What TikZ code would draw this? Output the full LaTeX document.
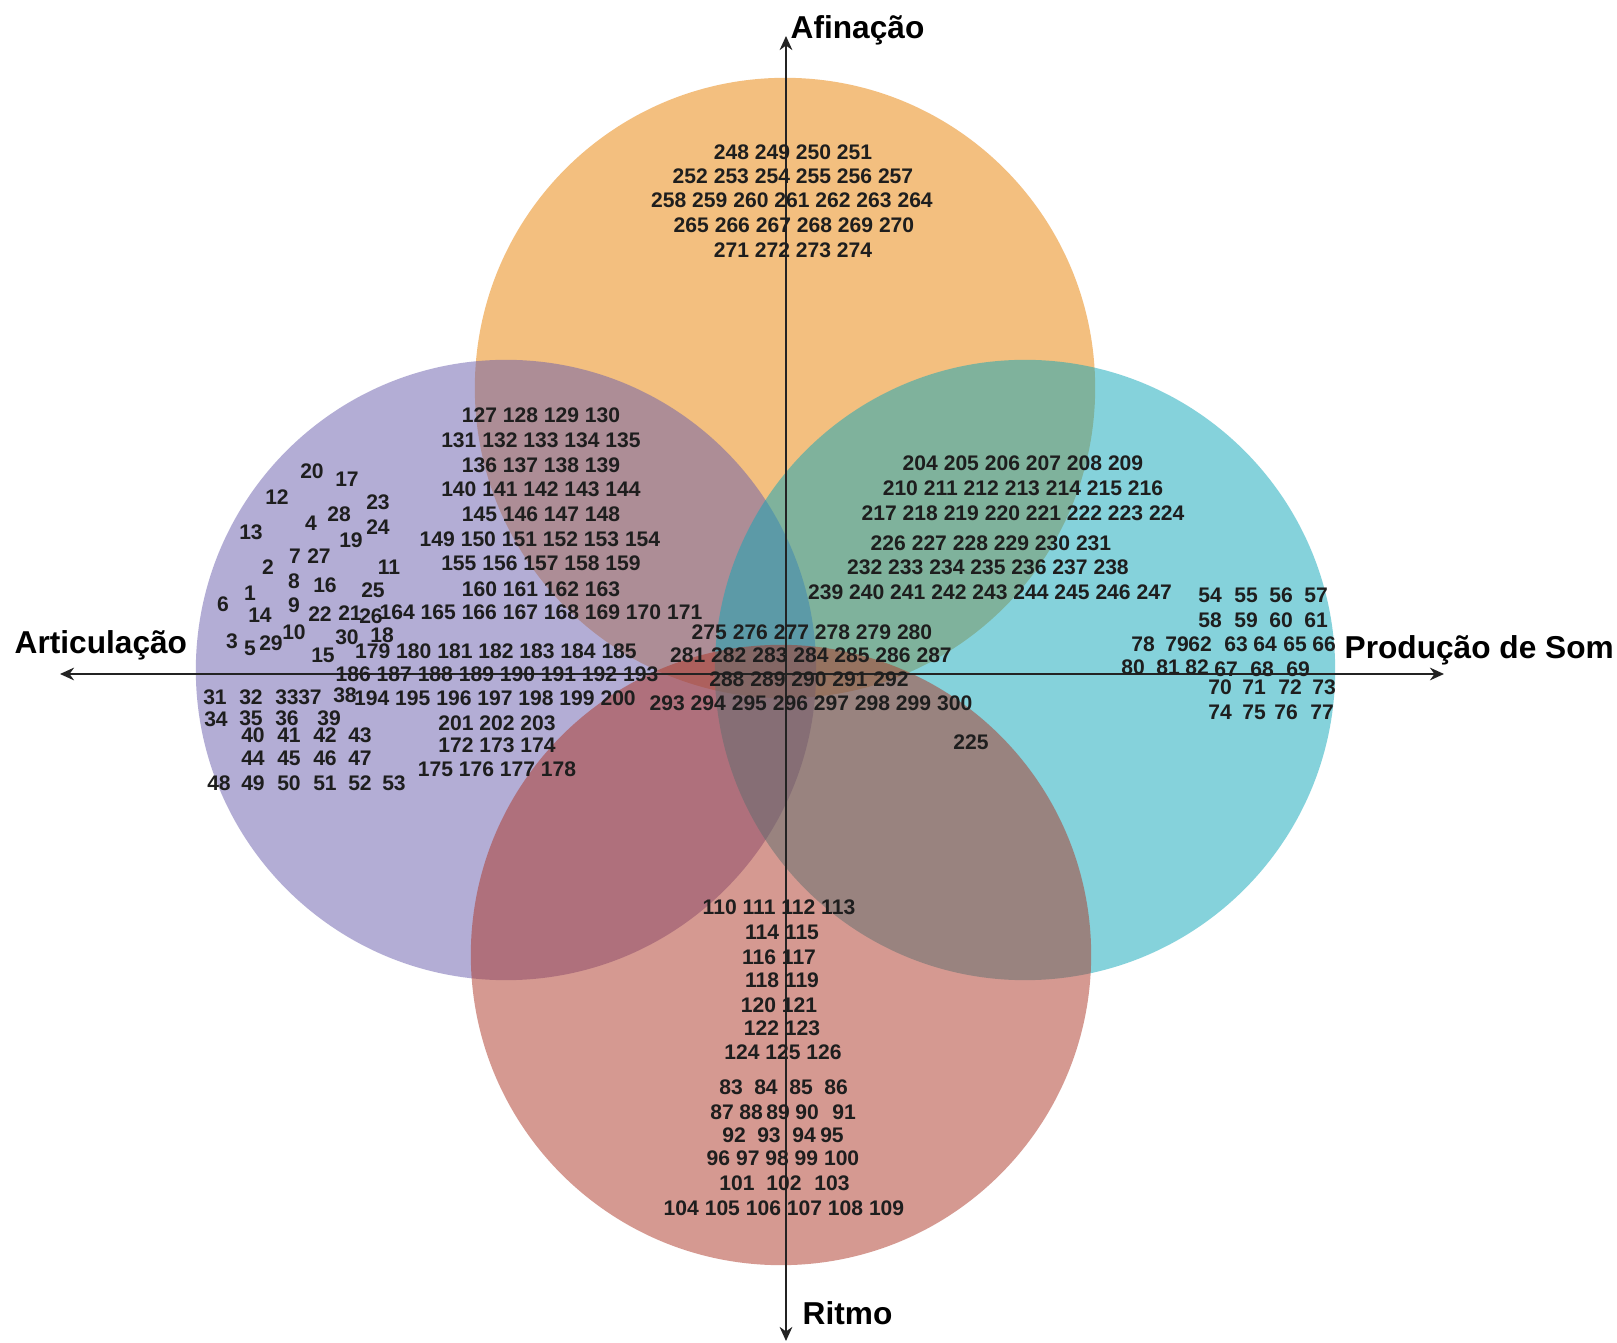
\documentclass[tikz,border=0pt]{standalone}
\usepackage{fontspec}
\setmainfont{Liberation Sans}
\usetikzlibrary{arrows.meta}

\definecolor{afincol}{RGB}{233,129,0}
\definecolor{articol}{RGB}{105,93,173}
\definecolor{prodcol}{RGB}{13,167,185}
\definecolor{ritmcol}{RGB}{173,53,37}
\definecolor{numcol}{RGB}{30,30,30}
\definecolor{axiscol}{RGB}{35,35,35}

\begin{document}
\begin{tikzpicture}[x=0.01cm, y=-0.01cm,
    set/.style={circle, minimum size=6.2cm, inner sep=0pt, fill opacity=0.5},
    num/.style={inner sep=0pt, text=numcol, font=\bfseries\fontsize{6}{7}\selectfont},
    lbl/.style={inner sep=0pt, text=black, font=\bfseries\fontsize{9}{10}\selectfont},
    axis/.style={draw=axiscol, line width=0.6pt, {Stealth[length=4pt,width=3.6pt]}-{Stealth[length=4pt,width=3.6pt]}}]
    \path[fill=white, use as bounding box] (0,0) rectangle (1617,1343);

    \node[set, fill=afincol] (afin) at (785,388) {};
    \node[set, fill=articol] (arti) at (506,670) {};
    \node[set, fill=prodcol] (prod) at (1025,670) {};
    \node[set, fill=ritmcol] (ritm) at (781,955) {};

    \coordinate (atop) at (786,36);
    \coordinate (abot) at (786,1341);
    \coordinate (aleft) at (60,674);
    \coordinate (aright) at (1444,674);
    \draw[axis] (abot) -- (atop);
    \draw[axis] (aleft) -- (aright);

    \node[lbl, anchor=base west] (lafin) at (790,39) {Afinação};
    \node[lbl, anchor=base west] (lritm) at (802,1324) {Ritmo};
    \node[lbl, anchor=base west] (larti) at (14,654) {Articulação};
    \node[lbl, anchor=base west] (lprod) at (1344,659) {Produção de Som};

    \node[num] (a1) at (793,152) {248 249 250 251};
    \node[num] (a2) at (793,176) {252 253 254 255 256 257};
    \node[num] (a3) at (792,200) {258 259 260 261 262 263 264};
    \node[num] (a4) at (794,225) {265 266 267 268 269 270};
    \node[num] (a5) at (793,250) {271 272 273 274};

    \node[num] (aa1) at (541,415) {127 128 129 130};
    \node[num] (aa2) at (541,440) {131 132 133 134 135};
    \node[num] (aa3) at (541,465) {136 137 138 139};
    \node[num] (aa4) at (541,489) {140 141 142 143 144};
    \node[num] (aa5) at (541,514) {145 146 147 148};
    \node[num] (aa6) at (540,539) {149 150 151 152 153 154};
    \node[num] (aa7) at (541,563) {155 156 157 158 159};
    \node[num] (aa8) at (541,589) {160 161 162 163};
    \node[num] (aa9) at (541,612) {164 165 166 167 168 169 170 171};
    \node[num] (aa10) at (496,651) {179 180 181 182 183 184 185};
    \node[num] (aa11) at (497,674) {186 187 188 189 190 191 192 193};
    \node[num] (aa12) at (495,698) {194 195 196 197 198 199 200};
    \node[num] (aa13) at (497,723) {201 202 203};
    \node[num] (aa14) at (497,745) {172 173 174};
    \node[num] (aa15) at (497,769) {175 176 177 178};

    \node[num] (ap1) at (1023,463) {204 205 206 207 208 209};
    \node[num] (ap2) at (1023,488) {210 211 212 213 214 215 216};
    \node[num] (ap3) at (1023,513) {217 218 219 220 221 222 223 224};
    \node[num] (ap4) at (991,543) {226 227 228 229 230 231};
    \node[num] (ap5) at (988,567) {232 233 234 235 236 237 238};
    \node[num] (ap6) at (990,592) {239 240 241 242 243 244 245 246 247};

    \node[num] (c1) at (812,632) {275 276 277 278 279 280};
    \node[num] (c2) at (811,655) {281 282 283 284 285 286 287};
    \node[num] (c3) at (809,679) {288 289 290 291 292};
    \node[num] (c4) at (811,703) {293 294 295 296 297 298 299 300};
    \node[num] (c5) at (971,742) {225};

    \node[num] (r1) at (779,907) {110 111 112 113};
    \node[num] (r2) at (782,932) {114 115};
    \node[num] (r3) at (779,957) {116 117};
    \node[num] (r4) at (782,980) {118 119};
    \node[num] (r5) at (779,1005) {120 121};
    \node[num] (r6) at (782,1028) {122 123};
    \node[num] (r7) at (783,1052) {124 125 126};
    \node[num] (r8) at (783,1158) {96 97 98 99 100};
    \node[num] (r9) at (784,1208) {104 105 106 107 108 109};

    \foreach \n/\x/\y in {20/312/471, 17/347/479, 12/277/497, 23/378/502, 28/339/514,
        4/311/523, 24/378/527, 13/251/532, 19/351/540, 7/295/556, 27/319/556,
        2/268/567, 11/389/567, 8/294/581, 16/325/585, 25/373/590, 1/250/593,
        6/223/604, 9/294/605, 14/260/615, 22/320/614, 21/350/613, 26/371/616,
        3/232/641, 5/250/648, 29/271/643, 10/294/632, 30/347/637, 18/382/635,
        15/323/655, 31/215/697, 32/251/697, 33/287/697, 37/310/697, 38/345/695,
        34/216/719, 35/251/718, 36/287/718, 39/329/718,
        40/253/735, 41/289/735, 42/325/735, 43/360/735,
        44/253/758, 45/289/758, 46/325/758, 47/360/758,
        48/219/783, 49/253/783, 50/289/783, 51/325/783, 52/360/783, 53/394/783}
        \node[num] (n\n) at (\x,\y) {\n};

    \foreach \n/\x/\y in {54/1210/595, 55/1246/595, 56/1281/595, 57/1316/595,
        58/1210/620, 59/1246/620, 60/1281/620, 61/1316/620,
        78/1143/644, 79/1177/644, 62/1200/644, 63/1236/644, 64/1265/644, 65/1295/644, 66/1324/644,
        80/1133/667, 81/1168/667, 82/1197/667, 67/1226/669, 68/1262/669, 69/1298/669,
        70/1220/687, 71/1254/687, 72/1290/687, 73/1324/687,
        74/1220/712, 75/1254/712, 76/1286/712, 77/1322/712}
        \node[num] (n\n) at (\x,\y) {\n};

    \foreach \n/\x/\y in {83/731/1087, 84/766/1087, 85/801/1087, 86/836/1087,
        87/722/1112, 88/751/1112, 89/778/1112, 90/807/1112, 91/844/1112,
        92/734/1135, 93/769/1135, 94/804/1135, 95/832/1135,
        101/737/1183, 102/784/1183, 103/832/1183}
        \node[num] (n\n) at (\x,\y) {\n};
\end{tikzpicture}
\end{document}
